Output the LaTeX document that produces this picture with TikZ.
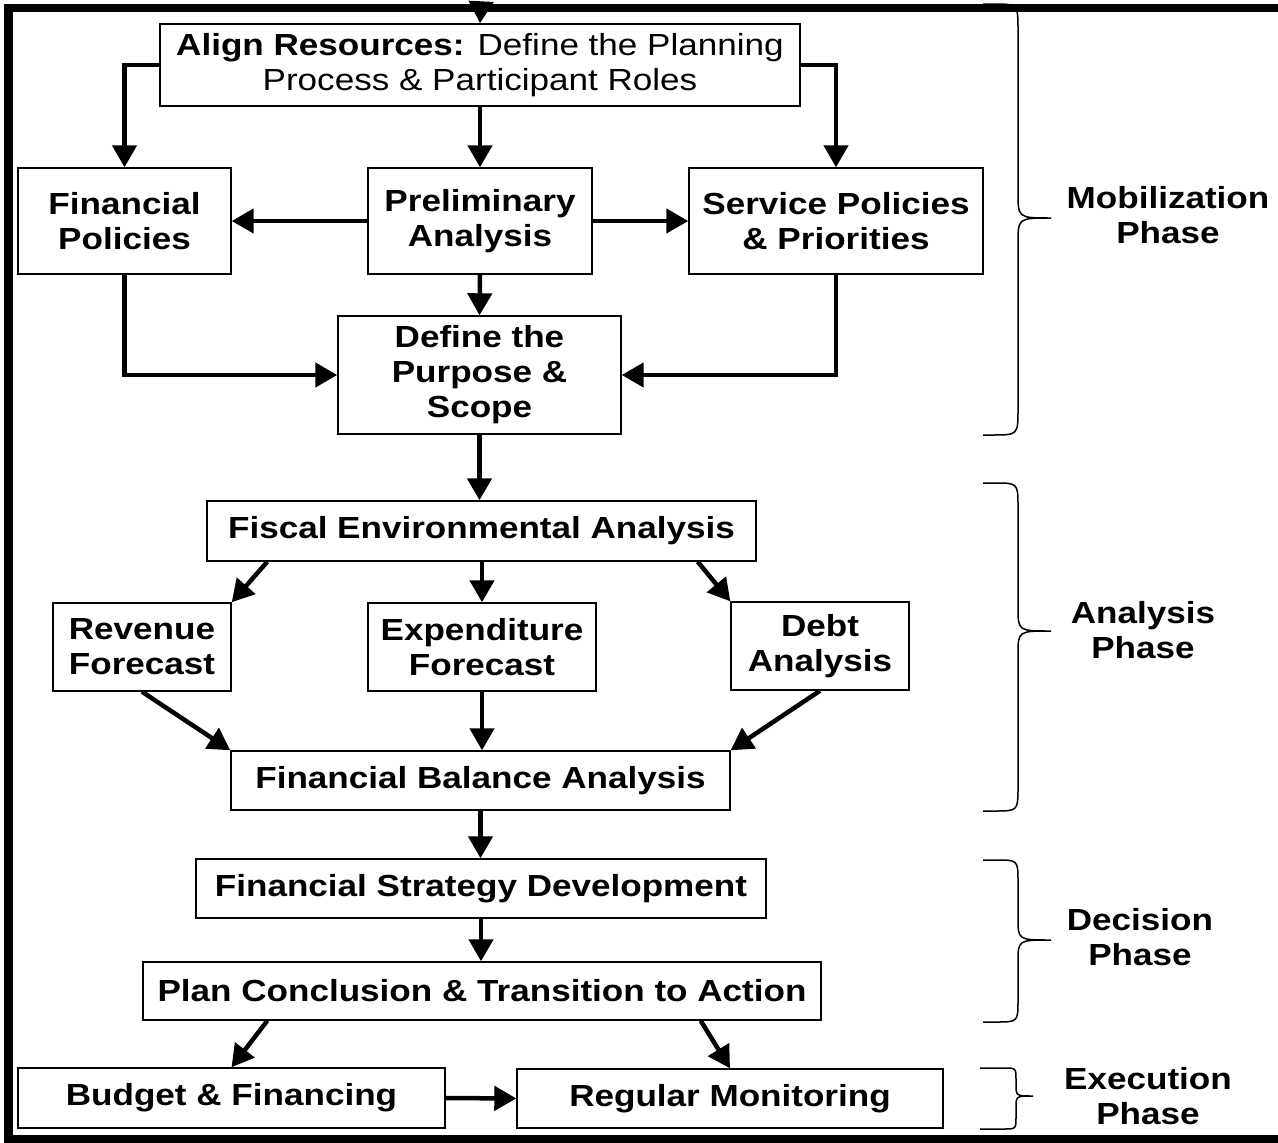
\documentclass[tikz,border=0pt]{standalone}
\usepackage{fontspec}
\setmainfont{Liberation Sans}[FakeStretch=1.15]
\usetikzlibrary{arrows.meta}
\newcommand{\chartfont}{\fontsize{30.5}{35}\selectfont}

\begin{document}
\begin{tikzpicture}[x=1pt,y=-1pt,
    box/.style={draw,line width=1.4pt,fill=white,align=center,inner sep=0pt,font=\chartfont\bfseries},
    flow/.style={-{Triangle[length=22pt,width=24pt]},line width=4.5pt},
    phase/.style={align=center,font=\chartfont\bfseries}]
    \useasboundingbox (0,0) rectangle (1278,1143);

    % Mobilization phase
    \node[box,font=\chartfont,minimum width=640pt,minimum height=82pt] (align) at (480,65)
        {\textbf{Align Resources:} Define the Planning\\Process \& Participant Roles};
    \node[box,minimum width=213pt,minimum height=106pt] (fin) at (124.5,221) {Financial\\Policies};
    \node[box,minimum width=224pt,minimum height=106pt] (prelim) at (480,221) {Preliminary\\Analysis};
    \node[box,minimum width=294pt,minimum height=106pt] (serv) at (836,221) {Service Policies\\\& Priorities};
    \node[box,minimum width=283pt,minimum height=118pt] (scope) at (479.5,375) {Define the\\Purpose \&\\Scope};

    % Analysis phase
    \node[box,minimum width=549pt,minimum height=60pt] (fiscal) at (481.5,531) {Fiscal Environmental Analysis};
    \node[box,minimum width=178pt,minimum height=88pt] (rev) at (142,647) {Revenue\\Forecast};
    \node[box,minimum width=228pt,minimum height=88pt] (exp) at (482,647) {Expenditure\\Forecast};
    \node[box,minimum width=178pt,minimum height=88pt] (debt) at (820,646) {Debt\\Analysis};
    \node[box,minimum width=499pt,minimum height=59pt] (bal) at (480.5,780.5) {Financial Balance Analysis};

    % Decision and execution phases
    \node[box,minimum width=570pt,minimum height=59pt] (strat) at (481,888.5) {Financial Strategy Development};
    \node[box,minimum width=678pt,minimum height=58pt] (plan) at (482,991) {Plan Conclusion \& Transition to Action};
    \node[box,minimum width=427pt,minimum height=60pt] (budget) at (231.5,1098) {Budget \& Financing};
    \node[box,minimum width=426pt,minimum height=59pt] (monit) at (730,1098.5) {Regular Monitoring};

    % Connectors
    \coordinate (topin) at (481,4);
    \draw[flow] (topin) -- (align.north);
    \draw[flow] (align.west) -| (fin.north);
    \draw[flow] (align.south) -- (prelim.north);
    \draw[flow] (align.east) -| (serv.north);
    \draw[flow] (prelim.west) -- (fin.east);
    \draw[flow] (prelim.east) -- (serv.west);
    \draw[flow] (prelim.south) -- (scope.north);
    \draw[flow] (fin.south) |- (scope.west);
    \draw[flow] (serv.south) |- (scope.east);
    \draw[flow] (scope.south) -- (scope.south |- fiscal.north);
    \draw[flow] ([xshift=61pt]fiscal.south west) -- (rev.north east);
    \draw[flow] (fiscal.south -| exp.north) -- (exp.north);
    \draw[flow] ([xshift=-59pt]fiscal.south east) -- (debt.north west);
    \draw[flow] (rev.south) -- (bal.north west);
    \draw[flow] (exp.south) -- (exp.south |- bal.north);
    \draw[flow] (debt.south) -- (bal.north east);
    \draw[flow] (bal.south) -- (bal.south |- strat.north);
    \draw[flow] (strat.south) -- (strat.south |- plan.north);
    \draw[flow] ([xshift=125pt]plan.south west) -- (budget.north);
    \draw[flow] ([xshift=-121pt]plan.south east) -- (monit.north);
    \draw[flow] (budget.east) -- (monit.west);

    % Phase braces
    \foreach \xe/\xv/\xt/\yt/\ym/\yb/\r in {983/1018/1051/4/218/435/26,
        983/1018/1051/483/631/811/24, 983/1018/1051/860/940/1022/22,
        980/1016/1033/1068/1096/1129/12}
      \draw[line width=1.5pt] (\xe,\yt) -- (\xv-\r,\yt) .. controls (\xv,\yt) .. (\xv,\yt+\r)
        -- (\xv,\ym-\r) .. controls (\xv,\ym) .. (\xt,\ym)
        .. controls (\xv,\ym) .. (\xv,\ym+\r)
        -- (\xv,\yb-\r) .. controls (\xv,\yb) .. (\xv-\r,\yb) -- (\xe,\yb);

    \node[phase] (mob) at (1168,215) {Mobilization\\Phase};
    \node[phase] (ana) at (1143,630) {Analysis\\Phase};
    \node[phase] (dec) at (1140,937) {Decision\\Phase};
    \node[phase] (exe) at (1148,1096) {Execution\\Phase};

    % Frame
    \fill (4,4) rectangle (1278,12);
    \fill (4,4) rectangle (13,1143);
    \fill (4,1135) rectangle (1278,1143);
\end{tikzpicture}
\end{document}
